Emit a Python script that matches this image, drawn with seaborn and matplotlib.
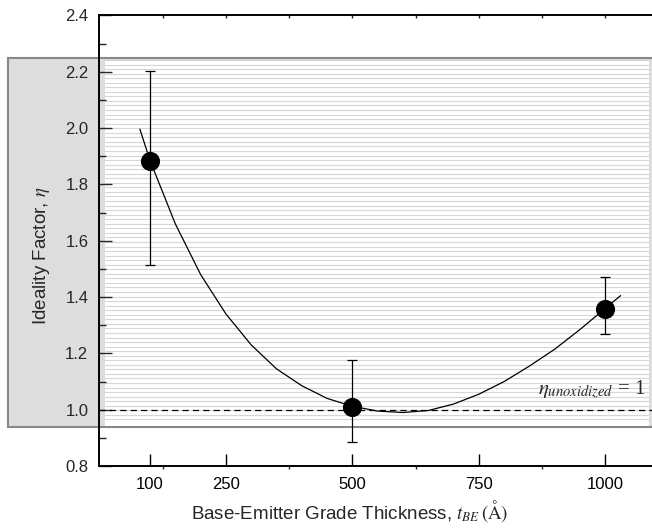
import numpy as np
import matplotlib
matplotlib.use('Agg')
import matplotlib.pyplot as plt
import seaborn as sns
from matplotlib.patches import Rectangle
from matplotlib.lines import Line2D

# measured points
thickness = [100, 500, 1000]
eta = [1.884, 1.008, 1.359]
eta_lo = [1.515, 0.885, 1.270]
eta_hi = [2.204, 1.178, 1.472]

# fitted curve
fit_x = [80, 100, 150, 200, 250, 300, 350, 400, 450, 500, 550, 600,
         650, 700, 750, 800, 850, 900, 950, 1000, 1030]
fit_y = [1.996, 1.885, 1.66, 1.48, 1.34, 1.23, 1.145, 1.085, 1.04, 1.012, 0.995, 0.99,
         0.997, 1.02, 1.055, 1.10, 1.155, 1.215, 1.285, 1.36, 1.405]

xticks = [100, 250, 500, 750, 1000]
yticks = [0.8, 1.0, 1.2, 1.4, 1.6, 1.8, 2.0, 2.2, 2.4]

sns.set_theme(style='ticks')
plt.rcParams['font.family'] = ['Liberation Sans', 'DejaVu Sans']
plt.rcParams['mathtext.fontset'] = 'stix'

W, H = 652, 532
fig = plt.figure(figsize=(W / 100, H / 100), dpi=100)

def fx(px):
    return px / W

def fy(py):
    return 1 - py / H

# gray window box behind the plot
fig.add_artist(Rectangle((fx(8), fy(427)), fx(660 - 8), fy(58) - fy(427),
                         transform=fig.transFigure, facecolor='#dddddd',
                         edgecolor='#888888', linewidth=1.5, zorder=-3))
fig.add_artist(Rectangle((fx(105), fy(426)), fx(649 - 105), fy(59.5) - fy(426),
                         transform=fig.transFigure, facecolor='white',
                         edgecolor='none', zorder=-2))
for py in np.arange(60, 424, 4.55):
    fig.add_artist(Line2D([fx(105), fx(649)], [fy(py), fy(py)], transform=fig.transFigure,
                          color='#d6d6d6', linewidth=0.8, zorder=-1))

ax = fig.add_axes([fx(99.4), fy(466), fx(656) - fx(99.4), fy(15.4) - fy(466)])
ax.set_zorder(2)
ax.patch.set_alpha(0)

sns.lineplot(x=fit_x, y=fit_y, ax=ax, color='black', linewidth=0.9, sort=False)
ax.axhline(1.0, color='black', linewidth=0.9, dashes=(5, 3.3))

err = [np.array(eta) - np.array(eta_lo), np.array(eta_hi) - np.array(eta)]
ax.errorbar(thickness, eta, yerr=err, fmt='none', ecolor='black', elinewidth=0.9,
            capsize=3.6, capthick=0.9, zorder=3)
sns.scatterplot(x=thickness, y=eta, ax=ax, color='black', s=190, edgecolor='black',
                linewidth=0, zorder=4)

ax.set_xlim(0, 1100)
ax.set_ylim(0.8, 2.4)
ax.set_xticks(xticks)
ax.set_xticks([125, 375, 625, 875], minor=True)
ax.set_yticks(yticks)
ax.set_yticks(np.arange(0.9, 2.4, 0.2), minor=True)
ax.set_yticklabels([f'{v:.1f}' for v in yticks])

ax.tick_params(axis='x', which='major', direction='in', length=9, width=1,
               labelsize=12, pad=8, colors='black')
ax.tick_params(axis='x', which='minor', direction='out', length=2, width=1, top=False)
ax.tick_params(axis='y', which='major', direction='in', length=9, width=1,
               labelsize=12, pad=8)
ax.tick_params(axis='y', which='minor', direction='in', length=5, width=1)

for s in ['left', 'bottom', 'top']:
    ax.spines[s].set_linewidth(1.4)
    ax.spines[s].set_color('black')

# top ticks every 125
top = ax.secondary_xaxis('top')
top.set_xticks(np.arange(125, 1100, 125))
top.tick_params(direction='in', length=2, width=1, labeltop=False)
top.spines['top'].set_visible(False)

ax.set_xlabel(r'Base-Emitter Grade Thickness, $t_{BE}\,(\mathrm{\AA})$', fontsize=13.5)
ax.set_ylabel(r'Ideality Factor, $\eta$', fontsize=13.5)
ax.xaxis.set_label_coords((350 - 99.4) / (656 - 99.4), -(511 - 466) / (466 - 15.4))
ax.yaxis.set_label_coords(-(99.4 - 41) / (656 - 99.4), 1 - (256 - 15.4) / (466 - 15.4))
ax.xaxis.label.set_va('center')
ax.yaxis.label.set_va('center')

ax.text(1080, 1.055, r'$\eta_{unoxidized}$ = 1', fontsize=15, family='Liberation Serif',
        ha='right', va='baseline')

fig.savefig('out.png', dpi=100)
